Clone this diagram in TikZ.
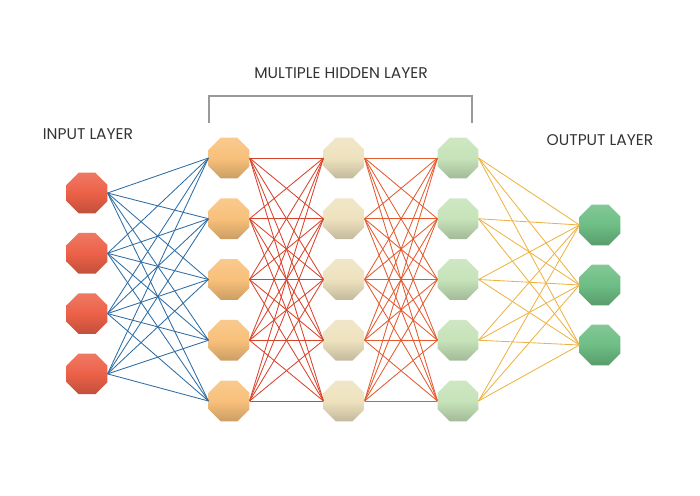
\documentclass[tikz,border=0pt]{standalone}
\usepackage{fontspec}
\setmainfont{Poppins}
\usetikzlibrary{shapes.geometric}
\definecolor{inred}{HTML}{EC6148}
\definecolor{hidA}{HTML}{F8C07A}
\definecolor{hidB}{HTML}{EEE2BE}
\definecolor{hidC}{HTML}{C6E3B9}
\definecolor{outgreen}{HTML}{6DBE84}
\definecolor{wireblue}{HTML}{2E6DA4}
\definecolor{wirered}{HTML}{D8432B}
\definecolor{wireorange}{HTML}{E35A2E}
\definecolor{wireyellow}{HTML}{EDB445}
\tikzset{
	neuron/.style={regular polygon, regular polygon sides=8, minimum size=44pt, inner sep=0pt,
		top color=#1!85!white, bottom color=#1!82!black, middle color=#1},
	wire/.style={draw=#1, line width=0.85pt},
	layer/.style={font=\fontsize{15.5}{18}\selectfont, text=black!80},
	bracket/.style={draw=black!40, line width=1.2pt}
}

\begin{document}
\begin{tikzpicture}[x=1pt,y=-1pt]
	\useasboundingbox (0,0) rectangle (700,495);
	% Titles
	\node[layer] (tin) at (88,134) {INPUT LAYER};
	\node[layer] (thid) at (341,73) {MULTIPLE HIDDEN LAYER};
	\node[layer] (tout) at (600,140) {OUTPUT LAYER};
	
	\coordinate (bl) at (209,123);
	\coordinate (br) at (472,123);
	\draw[bracket] (bl) -- ++(0,-27) -| (br);
	
	% Neurons
	\foreach \k in {1,...,4}
		\node[neuron=inred] (i\k) at (87,{193+60.3*(\k-1)}) {};
	\foreach \k in {1,...,5} {
		\node[neuron=hidA] (a\k) at (229,{158+60.75*(\k-1)}) {};
		\node[neuron=hidB] (b\k) at (344,{158+60.75*(\k-1)}) {};
		\node[neuron=hidC] (c\k) at (458,{158+60.75*(\k-1)}) {};
	}
	\foreach \k in {1,...,3}
		\node[neuron=outgreen] (o\k) at (600,{225+60*(\k-1)}) {};
	
	% Connections
	\foreach \s in {1,...,4}
		\foreach \t in {1,...,5}
			\draw[wire=wireblue] (i\s.east) -- (a\t.west);
	\foreach \s in {1,...,5}
		\foreach \t in {1,...,5} {
			\draw[wire=wirered] (a\s.east) -- (b\t.west);
			\draw[wire=wireorange] (b\s.east) -- (c\t.west);
		}
	\foreach \s in {1,...,5}
		\foreach \t in {1,...,3}
			\draw[wire=wireyellow] (c\s.east) -- (o\t.west);
\end{tikzpicture}
\end{document}
